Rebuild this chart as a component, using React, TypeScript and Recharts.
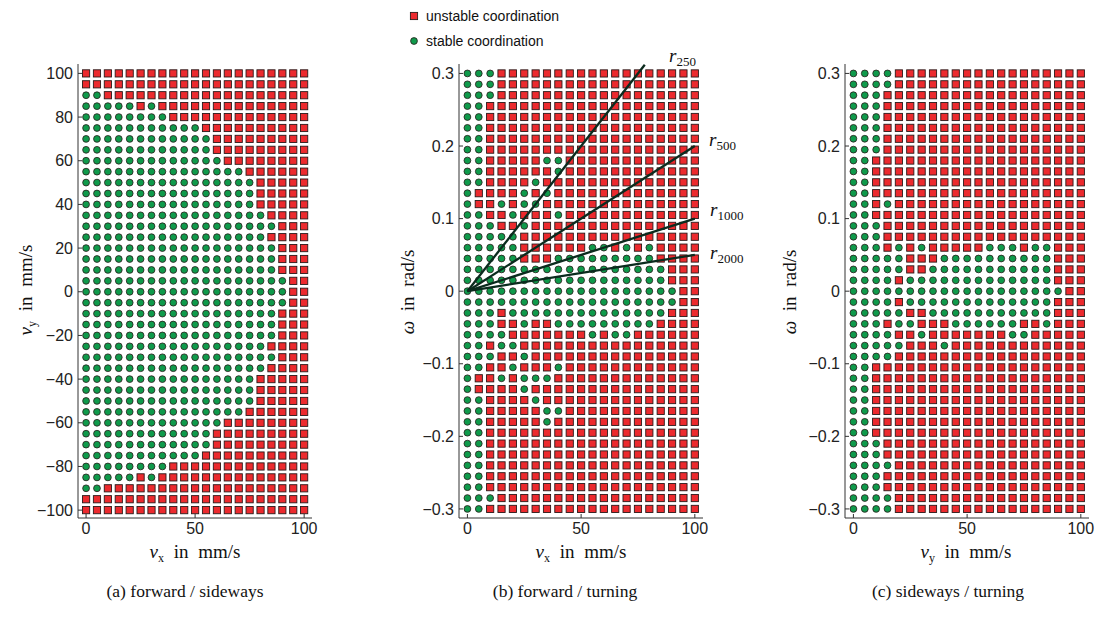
import React from 'react';
import { ScatterChart, Scatter, XAxis, YAxis } from 'recharts';

// grid columns (forward / sideways speed in mm/s)
const speedCols = [0, 5, 10, 15, 20, 25, 30, 35, 40, 45, 50, 55, 60, 65, 70, 75, 80, 85, 90, 95, 100];
// grid rows
const vyRows = [100, 95, 90, 85, 80, 75, 70, 65, 60, 55, 50, 45, 40, 35, 30, 25, 20, 15, 10, 5, 0,
  -5, -10, -15, -20, -25, -30, -35, -40, -45, -50, -55, -60, -65, -70, -75, -80, -85, -90, -95, -100];
const omegaRows = [0.3, 0.285, 0.27, 0.255, 0.24, 0.225, 0.21, 0.195, 0.18, 0.165, 0.15, 0.135, 0.12, 0.105,
  0.09, 0.075, 0.06, 0.045, 0.03, 0.015, 0, -0.015, -0.03, -0.045, -0.06, -0.075, -0.09, -0.105, -0.12,
  -0.135, -0.15, -0.165, -0.18, -0.195, -0.21, -0.225, -0.24, -0.255, -0.27, -0.285, -0.3];

// o = stable coordination, x = unstable coordination (one string per row, top to bottom)
const gridA = [
  'xxxxx xxxxx xxxxx xxxxx x', 'xxxxx xxxxx xxxxx xxxxx x', 'ooxxx xxxxx xxxxx xxxxx x',
  'ooooo xoxxx xxxxx xxxxx x', 'ooooo oooxx xxxxx xxxxx x', 'ooooo ooooo oxxxx xxxxx x',
  'ooooo ooooo ooxxx xxxxx x', 'ooooo ooooo ooxxx xxxxx x', 'ooooo ooooo oooxx xxxxx x',
  'ooooo ooooo ooooo xxxxx x', 'ooooo ooooo ooooo oxxxx x', 'ooooo ooooo ooooo oxxxx x',
  'ooooo ooooo ooooo oxxxx x', 'ooooo ooooo ooooo ooxxx x', 'ooooo ooooo ooooo oooxx x',
  'ooooo ooooo ooooo ooxxx x', 'ooooo ooooo ooooo oooxx x', 'ooooo ooooo ooooo oooxx x',
  'ooooo ooooo ooooo oooxx x', 'ooooo ooooo ooooo oooox x', 'ooooo ooooo ooooo oooox x',
  'ooooo ooooo ooooo oooox x', 'ooooo ooooo ooooo oooxx x', 'ooooo ooooo ooooo oooxx x',
  'ooooo ooooo ooooo oooxx x', 'ooooo ooooo ooooo ooxxx x', 'ooooo ooooo ooooo oooxx x',
  'ooooo ooooo ooooo ooxxx x', 'ooooo ooooo ooooo oxxxx x', 'ooooo ooooo ooooo oxxxx x',
  'ooooo ooooo ooooo oxxxx x', 'ooooo ooooo ooooo xxxxx x', 'ooooo ooooo oooxx xxxxx x',
  'ooooo ooooo ooxxx xxxxx x', 'ooooo ooooo ooxxx xxxxx x', 'ooooo ooooo oxxxx xxxxx x',
  'ooooo oooxx xxxxx xxxxx x', 'ooooo xoxxx xxxxx xxxxx x', 'ooxxx xxxxx xxxxx xxxxx x',
  'xxxxx xxxxx xxxxx xxxxx x', 'xxxxx xxxxx xxxxx xxxxx x',
];

const gridB = [
  'oooxx xxxxx xxxxx xxxxx x', 'oooxx xxxxx xxxxx xxxxx x', 'oooxx xxxxx xxxxx xxxxx x',
  'ooxxx xxxxx xxxxx xxxxx x', 'ooxxx xxxxx xxxxx xxxxx x', 'ooxxx xxxxx xxxxx xxxxx x',
  'ooxxx xxxxx xxxxx xxxxx x', 'ooxxx xxxxx xxxxx xxxxx x', 'ooxxx xxoox xxxxx xxxxx x',
  'ooxxx xxxox xxxxx xxxxx x', 'ooxxx xoxxx xxxxx xxxxx x', 'oxxxx oxoxx xxxxx xxxxx x',
  'oxxox ooxxx xxxxx xxxxx x', 'ooxxo xxxox xxxxx xxxxx x', 'oooxx oxxxx xxxxx xxxxx x',
  'ooooo xxxxx xxxxx xxxxx x', 'ooooo xxxxx xooxo xoxxx x', 'ooooo xxxoo ooooo ooxxx x',
  'ooooo ooooo ooooo oooxx x', 'ooooo ooooo ooooo oooxx x', 'ooooo ooooo ooooo oooox x',
  'ooooo ooooo ooooo oooox x', 'oooxo ooooo ooooo oooxx x', 'oooxx oxxoo ooooo ooxxx x',
  'oooox xxxxx xoxoo xxxxx x', 'ooxoo xxxxx xxxxx xxxxx x', 'oooxx oxxxx xxxxx xxxxx x',
  'ooxxo xxxox xxxxx xxxxx x', 'oxxox oooxx xxxxx xxxxx x', 'oxxxx oxxxx xxxxx xxxxx x',
  'ooxxx xoxxx xxxxx xxxxx x', 'ooxxx xxoox xxxxx xxxxx x', 'ooxxx xxoxx xxxxx xxxxx x',
  'ooxxx xxxxx xxxxx xxxxx x', 'ooxxx xxxxx xxxxx xxxxx x', 'ooxxx xxxxx xxxxx xxxxx x',
  'ooxxx xxxxx xxxxx xxxxx x', 'ooxxx xxxxx xxxxx xxxxx x', 'ooxxx xxxxx xxxxx xxxxx x',
  'oooxx xxxxx xxxxx xxxxx x', 'ooxxx xxxxx xxxxx xxxxx x',
];

const gridC = [
  'oooox xxxxx xxxxx xxxxx x', 'oooox xxxxx xxxxx xxxxx x', 'oooxx xxxxx xxxxx xxxxx x',
  'oooxx xxxxx xxxxx xxxxx x', 'oooxx xxxxx xxxxx xxxxx x', 'oooxx xxxxx xxxxx xxxxx x',
  'oooxx xxxxx xxxxx xxxxx x', 'oooxx xxxxx xxxxx xxxxx x', 'ooxxx xxxxx xxxxx xxxxx x',
  'ooxxx xxxxx xxxxx xxxxx x', 'ooxxx xxxxx xxxxx xxxxx x', 'ooxxx xxxxx xxxxx xxxxx x',
  'ooxox xxxxx xxxxx xxxxx x', 'ooxxx xxxxx xxxxx xxxxx x', 'oooxx xxxxx xxxxx xxxxx x',
  'oooxx xxxxx xxxxx xxxxx x', 'oooxo xoxxx xxooo xooxx x', 'ooooo xxxoo ooooo oooxx x',
  'ooooo xxooo ooooo oooxx x', 'oooox ooooo ooooo oooxx x', 'ooooo ooooo ooooo oooox x',
  'oooox ooooo ooooo oooxx x', 'ooooo xxooo ooooo oooxx x', 'oooxo oxxxo ooooo xxoxx x',
  'oooox xoxxx xxxxo oxxxx x', 'ooooo xxxox xxxxx xxxxx x', 'oooox xxxxx xxxxx xxxxx x',
  'ooxxx xxxxx xxxxx xxxxx x', 'ooxxx xxxxx xxxxx xxxxx x', 'ooxxx xxxxx xxxxx xxxxx x',
  'ooxxx xxxxx xxxxx xxxxx x', 'ooxxx xxxxx xxxxx xxxxx x', 'ooxxx xxxxx xxxxx xxxxx x',
  'ooxxx xxxxx xxxxx xxxxx x', 'oooxx xxxxx xxxxx xxxxx x', 'oooxx xxxxx xxxxx xxxxx x',
  'oooox xxxxx xxxxx xxxxx x', 'oooxx xxxxx xxxxx xxxxx x', 'oooxx xxxxx xxxxx xxxxx x',
  'oooox xxxxx xxxxx xxxxx x', 'oooox xxxxx xxxxx xxxxx x',
];

// turning-radius lines in panel (b): end point (v, omega)
const radiusLines = [
  { label: '250', v: 78, w: 0.312 },
  { label: '500', v: 100, w: 0.2 },
  { label: '1000', v: 100, w: 0.1 },
  { label: '2000', v: 100, w: 0.05 },
];

const vTicks = [0, 50, 100];
const vyTicks = [100, 80, 60, 40, 20, 0, -20, -40, -60, -80, -100];
const omegaTicks = [0.3, 0.2, 0.1, 0, -0.1, -0.2, -0.3];

const RED = '#ec2a2e';
const GREEN = '#0f9a4b';
const EDGE = '#2a1a1a';
const AXIS = '#333';
const SANS = '"Liberation Sans", Arial, sans-serif';
const SERIF = '"Liberation Serif", "DejaVu Serif", serif';

const toPoints = (grid: string[], rows: number[], state: string) => {
  const pts: { x: number; y: number }[] = [];
  grid.forEach((row, i) => {
    row.replace(/ /g, '').split('').forEach((c, j) => {
      if (c === state) pts.push({ x: speedCols[j], y: rows[i] });
    });
  });
  return pts;
};

const Square = (p: any) => (
  <rect x={p.cx - 3.6} y={p.cy - 3.6} width={7.2} height={7.2} fill={RED} stroke={EDGE} strokeWidth={0.9} />
);
const Dot = (p: any) => <circle cx={p.cx} cy={p.cy} r={3.4} fill={GREEN} stroke={EDGE} strokeWidth={0.8} />;
const NoMark = () => <g />;

const fmt = (v: number) => (v < 0 ? '\u2212' + Math.abs(v) : String(v));

interface PanelProps {
  left: number;
  width: number;
  mLeft: number;
  mRight: number;
  rows: number[];
  grid: string[];
  yDomain: [number, number];
  yTicks: number[];
  lines?: typeof radiusLines;
}

const Panel: React.FC<PanelProps> = ({ left, width, mLeft, mRight, rows, grid, yDomain, yTicks, lines }) => {
  const tick = { fill: '#222', fontSize: 16, fontFamily: SANS };
  return (
    <div style={{ position: 'absolute', left, top: 0 }}>
      <ScatterChart width={width} height={621} margin={{ top: 64, right: mRight, bottom: 73, left: mLeft }}>
        <XAxis
          type="number"
          dataKey="x"
          domain={[-3.7, 103.6]}
          ticks={vTicks}
          interval={0}
          allowDataOverflow
          height={30}
          tick={tick}
          tickSize={-4}
          tickMargin={9}
          axisLine={{ stroke: AXIS }}
          tickLine={{ stroke: AXIS }}
        />
        <YAxis
          type="number"
          dataKey="y"
          domain={yDomain}
          ticks={yTicks}
          interval={0}
          allowDataOverflow
          width={40}
          tick={tick}
          tickFormatter={fmt}
          tickSize={-4}
          tickMargin={9}
          axisLine={{ stroke: AXIS }}
          tickLine={{ stroke: AXIS }}
        />
        <Scatter data={toPoints(grid, rows, 'x')} shape={Square} isAnimationActive={false} />
        <Scatter data={toPoints(grid, rows, 'o')} shape={Dot} isAnimationActive={false} />
        {lines &&
          lines.map((l) => (
            <Scatter
              key={l.label}
              data={[{ x: 0, y: 0 }, { x: l.v, y: l.w }]}
              line={{ stroke: '#0b2b1e', strokeWidth: 2.3 }}
              shape={NoMark}
              isAnimationActive={false}
            />
          ))}
      </ScatterChart>
    </div>
  );
};

const MathLabel = ({ x, y, sym, sub, rest, rotate }: any) => (
  <text
    x={x}
    y={y}
    textAnchor="middle"
    fontFamily={SERIF}
    fontSize={19}
    fill="#111"
    transform={rotate ? `rotate(-90 ${x} ${y})` : undefined}
    style={{ wordSpacing: 5 }}
  >
    <tspan fontStyle="italic">{sym}</tspan>
    {sub && (
      <tspan fontSize={12} dy={4}>
        {sub}
      </tspan>
    )}
    <tspan dy={sub ? -4 : 0}>{rest}</tspan>
  </text>
);

const RLabel = ({ x, y, sub }: { x: number; y: number; sub: string }) => (
  <text x={x} y={y} fontFamily={SERIF} fontSize={19} fill="#111">
    <tspan fontStyle="italic">r</tspan>
    <tspan fontSize={13} dy={4}>
      {sub}
    </tspan>
  </text>
);

const App: React.FC = () => {
  return (
    <div style={{ position: 'absolute', left: 0, top: 0, width: 1095, height: 621, background: '#fff' }}>
      <Panel left={0} width={330} mLeft={38} mRight={18} rows={vyRows} grid={gridA} yDomain={[-103.6, 104.3]} yTicks={vyTicks} />
      <Panel
        left={380}
        width={330}
        mLeft={39}
        mRight={7}
        rows={omegaRows}
        grid={gridB}
        yDomain={[-0.3125, 0.313]}
        yTicks={omegaTicks}
        lines={radiusLines}
      />
      <Panel left={760} width={335} mLeft={45} mRight={6} rows={omegaRows} grid={gridC} yDomain={[-0.3125, 0.313]} yTicks={omegaTicks} />

      <svg width={1095} height={621} style={{ position: 'absolute', left: 0, top: 0, pointerEvents: 'none' }}>
        {/* legend */}
        <rect x={410.4} y={12.4} width={7.2} height={7.2} fill={RED} stroke={EDGE} strokeWidth={0.9} />
        <text x={426} y={21} fontFamily={SANS} fontSize={14} fill="#111">unstable coordination</text>
        <circle cx={414} cy={41} r={3.4} fill={GREEN} stroke={EDGE} strokeWidth={0.8} />
        <text x={426} y={46} fontFamily={SANS} fontSize={14} fill="#111">stable coordination</text>

        {/* radius labels */}
        <RLabel x={669} y={62} sub="250" />
        <RLabel x={709} y={146} sub="500" />
        <RLabel x={710} y={216} sub="1000" />
        <RLabel x={710} y={259} sub="2000" />

        {/* axis titles */}
        <MathLabel x={195} y={558} sym="v" sub="x" rest=" in mm/s" />
        <MathLabel x={581} y={558} sym="v" sub="x" rest=" in mm/s" />
        <MathLabel x={966} y={558} sym="v" sub="y" rest=" in mm/s" />
        <MathLabel x={32} y={290} sym="v" sub="y" rest=" in mm/s" rotate />
        <MathLabel x={414} y={292} sym="ω" rest=" in rad/s" rotate />
        <MathLabel x={796} y={292} sym="ω" rest=" in rad/s" rotate />

        {/* captions */}
        <g fontFamily={SERIF} fontSize={17.5} fill="#111" textAnchor="middle">
          <text x={185} y={597}>(a) forward / sideways</text>
          <text x={565} y={597}>(b) forward / turning</text>
          <text x={948} y={597}>(c) sideways / turning</text>
        </g>
      </svg>
    </div>
  );
};

export default App;
